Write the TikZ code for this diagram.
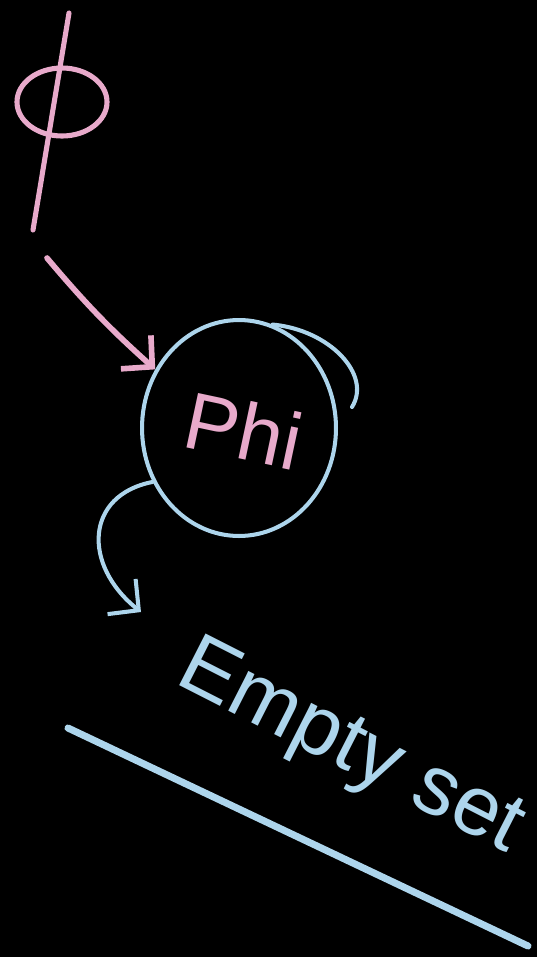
\documentclass[tikz,border=0pt]{standalone}
\usepackage{fontspec}
\setmainfont{Liberation Sans}
\usetikzlibrary{arrows.meta,shapes.geometric}
\definecolor{CHPink}{HTML}{E8AACB}
\definecolor{CHBlue}{HTML}{ADD5EC}

\begin{document}
\begin{tikzpicture}[x=0.02cm,y=-0.02cm,line cap=round,line join=round,
 pinkstroke/.style={draw=CHPink,line width=2.9pt},
 bluestroke/.style={draw=CHBlue,line width=2.3pt},
 barbtip/.style={-{Straight Barb[length=4.4mm,width=9mm]}}]
\fill[black] (0,0) rectangle (537,957);
\useasboundingbox (0,0) rectangle (537,957);
% phi symbol
\coordinate (phisym) at (62,102);
\draw[pinkstroke] (phisym) ellipse[x radius=45,y radius=34];
\draw[pinkstroke] (69,13) -- (33,230);
\coordinate (phitail) at (47,258);
% circle with the word
\node[ellipse,bluestroke,minimum width=3.88cm,minimum height=4.32cm,inner sep=0pt] (ring) at (239,428) {};
\node[text=CHPink,rotate=-12,font=\fontsize{46}{46}\selectfont] (phiword) at (244,430) {Phi};
\draw[bluestroke] (ring.72) .. controls (330,330) and (372,375) .. (352,407);
\draw[pinkstroke,line width=3.2pt,barbtip] (phitail) to[bend right=4] (ring.145);
% down to the label
\coordinate (arrowtip) at (141,612);
\draw[bluestroke,barbtip] (ring.212) .. controls (85,495) and (82,565) .. (arrowtip);
\node[text=CHBlue,rotate=-27,inner sep=0pt,font=\fontsize{48}{48}\selectfont] (emptyset) at (350,750) {Empty set};
\draw[bluestroke,line width=4pt] (68,728) -- (528,946);
\end{tikzpicture}
\end{document}
